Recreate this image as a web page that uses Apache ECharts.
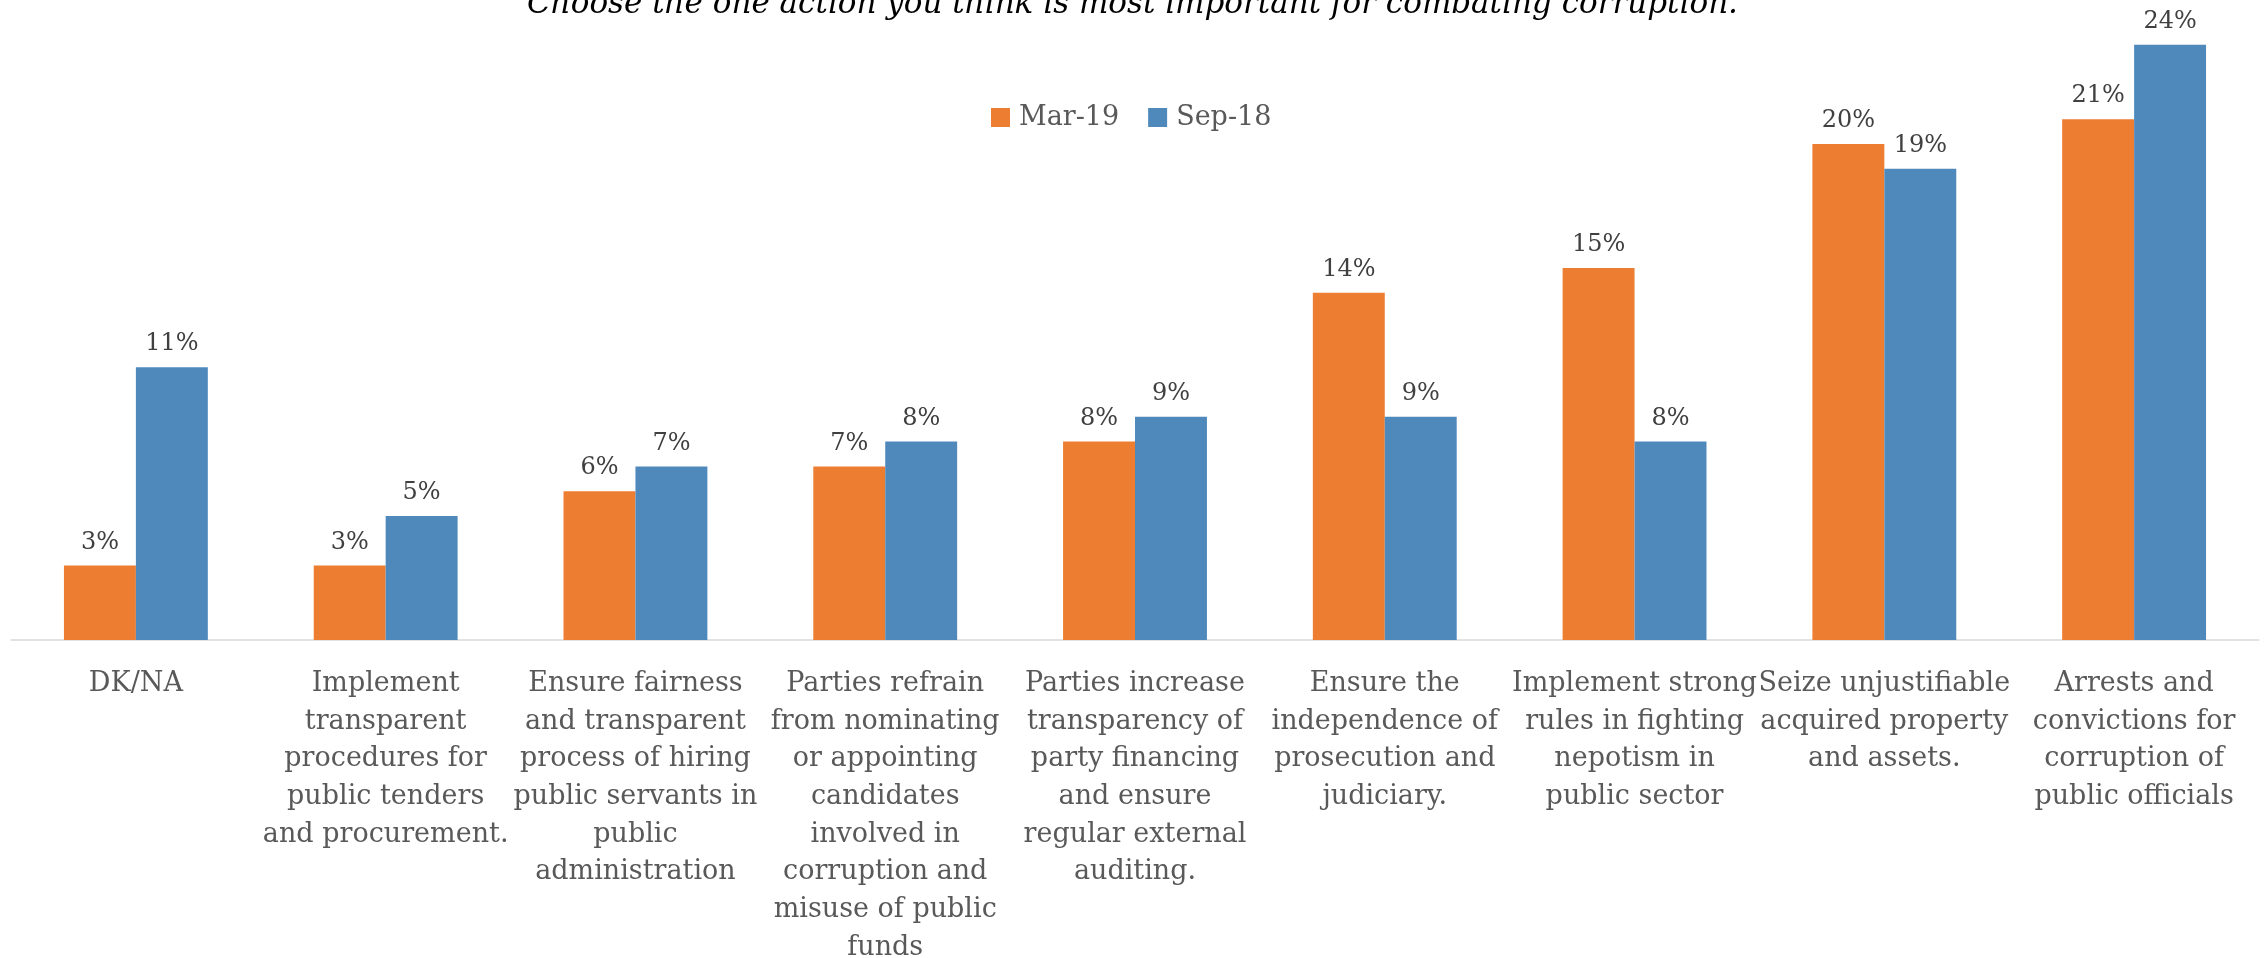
<!DOCTYPE html>
<html>
<head>
<meta charset="utf-8">
<title>Actions for combating corruption</title>
<script src="https://cdn.jsdelivr.net/npm/echarts@6/dist/echarts.min.js"></script>
<style>
  html, body { margin: 0; padding: 0; background: #ffffff; }
  #chart { width: 2265px; height: 958px; }
</style>
</head>
<body>
<div id="chart"></div>
<script>
// Survey answers, share of respondents (%)
const titleText = 'Choose the one action you think is most important for combating corruption.';

const categories = [
  'DK/NA',
  'Implement\ntransparent\nprocedures for\npublic tenders\nand procurement.',
  'Ensure fairness\nand transparent\nprocess of hiring\npublic servants in\npublic\nadministration',
  'Parties refrain\nfrom nominating\nor appointing\ncandidates\ninvolved in\ncorruption and\nmisuse of public\nfunds',
  'Parties increase\ntransparency of\nparty financing\nand ensure\nregular external\nauditing.',
  'Ensure the\nindependence of\nprosecution and\njudiciary.',
  'Implement strong\nrules in fighting\nnepotism in\npublic sector',
  'Seize unjustifiable\nacquired property\nand assets.',
  'Arrests and\nconvictions for\ncorruption of\npublic officials'
];

const seriesNames = ['Mar-19', 'Sep-18'];
const mar19 = [3, 3, 6, 7, 8, 14, 15, 20, 21];
const sep18 = [11, 5, 7, 8, 9, 9, 8, 19, 24];

const serif = '"DejaVu Serif", "Liberation Serif", serif';

const chart = echarts.init(document.getElementById('chart'), null, { renderer: 'canvas' });

const barLabel = {
  show: true,
  position: 'top',
  distance: 11,
  color: '#404040',
  fontFamily: serif,
  fontSize: 24,
  formatter: p => p.value + '%'
};

chart.setOption({
  animation: false,
  backgroundColor: '#ffffff',
  title: {
    text: titleText,
    left: 'center',
    top: -16,
    textStyle: {
      fontFamily: serif,
      fontStyle: 'italic',
      fontWeight: 'normal',
      fontSize: 31,
      color: '#000000'
    }
  },
  legend: {
    data: seriesNames,
    left: 986,
    top: 99,
    itemWidth: 19,
    itemHeight: 19,
    itemGap: 29,
    icon: 'rect',
    textStyle: {
      fontFamily: serif,
      fontSize: 27,
      color: '#595959',
      padding: [0, 0, 0, 4]
    }
  },
  grid: {
    left: 11,
    right: 6,
    top: 20,
    bottom: 318,
    containLabel: false,
    outerBoundsMode: 'none'
  },
  xAxis: {
    type: 'category',
    data: categories,
    axisLine: { show: true, lineStyle: { color: '#d9d9d9', width: 1.5 } },
    axisTick: { show: false },
    axisLabel: {
      interval: 0,
      margin: 25,
      color: '#595959',
      fontFamily: serif,
      fontSize: 27,
      lineHeight: 37.7,
      align: 'center'
    }
  },
  yAxis: {
    type: 'value',
    min: 0,
    max: 25,
    show: false,
    splitLine: { show: false }
  },
  series: [
    {
      name: seriesNames[0],
      type: 'bar',
      data: mar19,
      barGap: '0%',
      barCategoryGap: '42.4%',
      itemStyle: { color: '#ED7D31' },
      label: barLabel
    },
    {
      name: seriesNames[1],
      type: 'bar',
      data: sep18,
      barGap: '0%',
      barCategoryGap: '42.4%',
      itemStyle: { color: '#4F89BC' },
      label: barLabel
    }
  ]
});
</script>
</body>
</html>
